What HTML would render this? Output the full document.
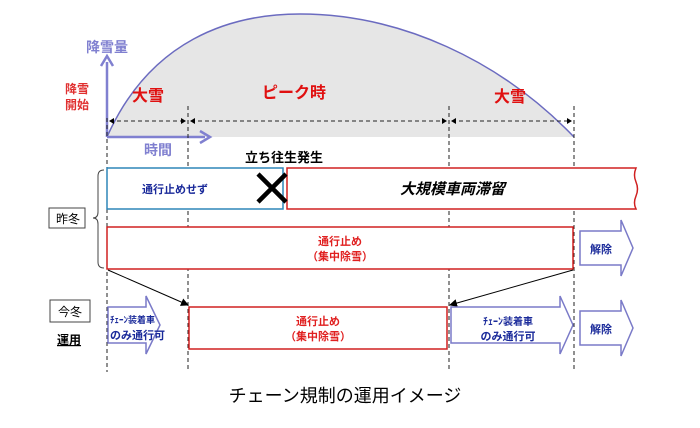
<!DOCTYPE html>
<html><head><meta charset="utf-8"><style>
body{margin:0;background:#fff;}
svg text{font-family:"Liberation Sans","Noto Sans CJK JP",sans-serif;}
</style></head><body>
<svg width="700" height="423" viewBox="0 0 700 423" xmlns="http://www.w3.org/2000/svg">
<defs>
<marker id="ah" markerWidth="8" markerHeight="8" refX="7" refY="4" orient="auto" markerUnits="userSpaceOnUse"><path d="M0,0 L8,4 L0,8z" fill="#000"/></marker>
</defs>
<path d="M107,137 C150,40 230,14 300,14 C400,14 500,60 574,137 Z" fill="#e6e6e6"/>
<path d="M107,137 C150,40 230,14 300,14 C400,14 500,60 574,137" fill="none" stroke="#6b6bc0" stroke-width="1.5"/>
<line x1="107" y1="137" x2="107" y2="62" stroke="#8080d0" stroke-width="2.5"/>
<path d="M101,66 L107,56 L113,66" fill="none" stroke="#8080d0" stroke-width="2.5"/>
<line x1="107" y1="137" x2="205" y2="137" stroke="#8080d0" stroke-width="2.5"/>
<path d="M200,131 L210,137 L200,143" fill="none" stroke="#8080d0" stroke-width="2.5"/>
<text x="86" y="52" font-size="14" font-weight="bold" fill="#8080d0">降雪量</text>
<text x="144" y="155" font-size="14" font-weight="bold" fill="#8080d0">時間</text>
<text x="65" y="93" font-size="12" font-weight="bold" fill="#e03030">降雪</text>
<text x="65" y="109" font-size="12" font-weight="bold" fill="#e03030">開始</text>
<text x="132" y="101" font-size="16" font-weight="bold" fill="#e01010">大雪</text>
<text x="262" y="98" font-size="16" font-weight="bold" fill="#e01010">ピーク時</text>
<text x="494" y="102" font-size="16" font-weight="bold" fill="#e01010">大雪</text>
<g stroke="#222" stroke-width="1" stroke-dasharray="4,3">
<line x1="107" y1="118" x2="107" y2="372"/>
<line x1="188" y1="106" x2="188" y2="372"/>
<line x1="449" y1="106" x2="449" y2="372"/>
<line x1="574" y1="106" x2="574" y2="372"/>
<line x1="110" y1="121" x2="185" y2="121"/>
<line x1="191" y1="121" x2="446" y2="121"/>
<line x1="452" y1="121" x2="571" y2="121"/>
</g>
<g fill="#000">
<path d="M109,121 l5,-3 v6z"/><path d="M186,121 l-5,-3 v6z"/>
<path d="M190,121 l5,-3 v6z"/><path d="M447,121 l-5,-3 v6z"/>
<path d="M451,121 l5,-3 v6z"/><path d="M572,121 l-5,-3 v6z"/>
</g>
<text x="245" y="162" font-size="13" font-weight="bold" fill="#000">立ち往生発生</text>
<rect x="107" y="168" width="176" height="41" fill="#fff" stroke="#2e86b8" stroke-width="1.5"/>
<text x="142" y="193" font-size="11" font-weight="bold" fill="#1a2a9a">通行止めせず</text>
<path d="M287,168 H636 q-3,7 0,14 q3,7 0,14 q-3,7 0,13 H287 Z" fill="#fff" stroke="#d02020" stroke-width="1.5"/>
<text x="400" y="194" font-size="15" font-weight="bold" font-style="italic" fill="#000">大規模車両滞留</text>
<path d="M258,174 L286,202 M286,174 L258,202" stroke="#000" stroke-width="4.5"/>
<path d="M104,170 q-6,0 -6,6 v36 q0,6 -5,6 q5,0 5,6 v38 q0,6 6,6" fill="none" stroke="#444" stroke-width="1"/>
<rect x="49" y="208" width="36" height="20" fill="#fff" stroke="#444" stroke-width="1"/>
<text x="56" y="223" font-size="12" fill="#000">昨冬</text>
<rect x="107" y="227" width="466" height="42" fill="#fff" stroke="#d02020" stroke-width="1.5"/>
<text x="340" y="245" font-size="11" font-weight="bold" fill="#e02020" text-anchor="middle">通行止め</text>
<text x="340" y="260" font-size="11" font-weight="bold" fill="#e02020" text-anchor="middle">（集中除雪）</text>
<path d="M580,231 H621 V220 L633,248 L621,276 V265 H580 Z" fill="#fff" stroke="#7a7ac8" stroke-width="1.5"/>
<text x="590" y="253" font-size="11" font-weight="bold" fill="#1a2a9a">解除</text>
<line x1="108" y1="270" x2="188" y2="305" stroke="#000" stroke-width="1" marker-end="url(#ah)"/>
<line x1="573" y1="270" x2="450" y2="305" stroke="#000" stroke-width="1" marker-end="url(#ah)"/>
<rect x="50" y="300" width="40" height="22" fill="#fff" stroke="#444" stroke-width="1"/>
<text x="58" y="316" font-size="12" fill="#000">今冬</text>
<text x="57" y="344" font-size="12" font-weight="bold" fill="#000" text-decoration="underline">運用</text>
<path d="M108,307 H146 V296 L160,325 L146,354 V343 H108 Z" fill="#fff" stroke="#7a7ac8" stroke-width="1.5"/>
<text x="110" y="323" font-size="9" font-weight="bold" fill="#1a2a9a">ﾁｪｰﾝ装着車</text>
<text x="110" y="339" font-size="11" font-weight="bold" fill="#1a2a9a">のみ通行可</text>
<rect x="189" y="307" width="258" height="42" fill="#fff" stroke="#d02020" stroke-width="1.5"/>
<text x="318" y="325" font-size="11" font-weight="bold" fill="#e02020" text-anchor="middle">通行止め</text>
<text x="318" y="340" font-size="11" font-weight="bold" fill="#e02020" text-anchor="middle">（集中除雪）</text>
<path d="M451,307 H560 V296 L573,325 L560,354 V343 H451 Z" fill="#fff" stroke="#7a7ac8" stroke-width="1.5"/>
<text x="508" y="325" font-size="10" font-weight="bold" fill="#1a2a9a" text-anchor="middle">ﾁｪｰﾝ装着車</text>
<text x="508" y="340" font-size="11" font-weight="bold" fill="#1a2a9a" text-anchor="middle">のみ通行可</text>
<path d="M580,311 H621 V300 L633,328 L621,356 V345 H580 Z" fill="#fff" stroke="#7a7ac8" stroke-width="1.5"/>
<text x="590" y="333" font-size="11" font-weight="bold" fill="#1a2a9a">解除</text>
<text x="345" y="402" font-size="18" fill="#000" text-anchor="middle">チェーン規制の運用イメージ</text>
</svg>
</body></html>
